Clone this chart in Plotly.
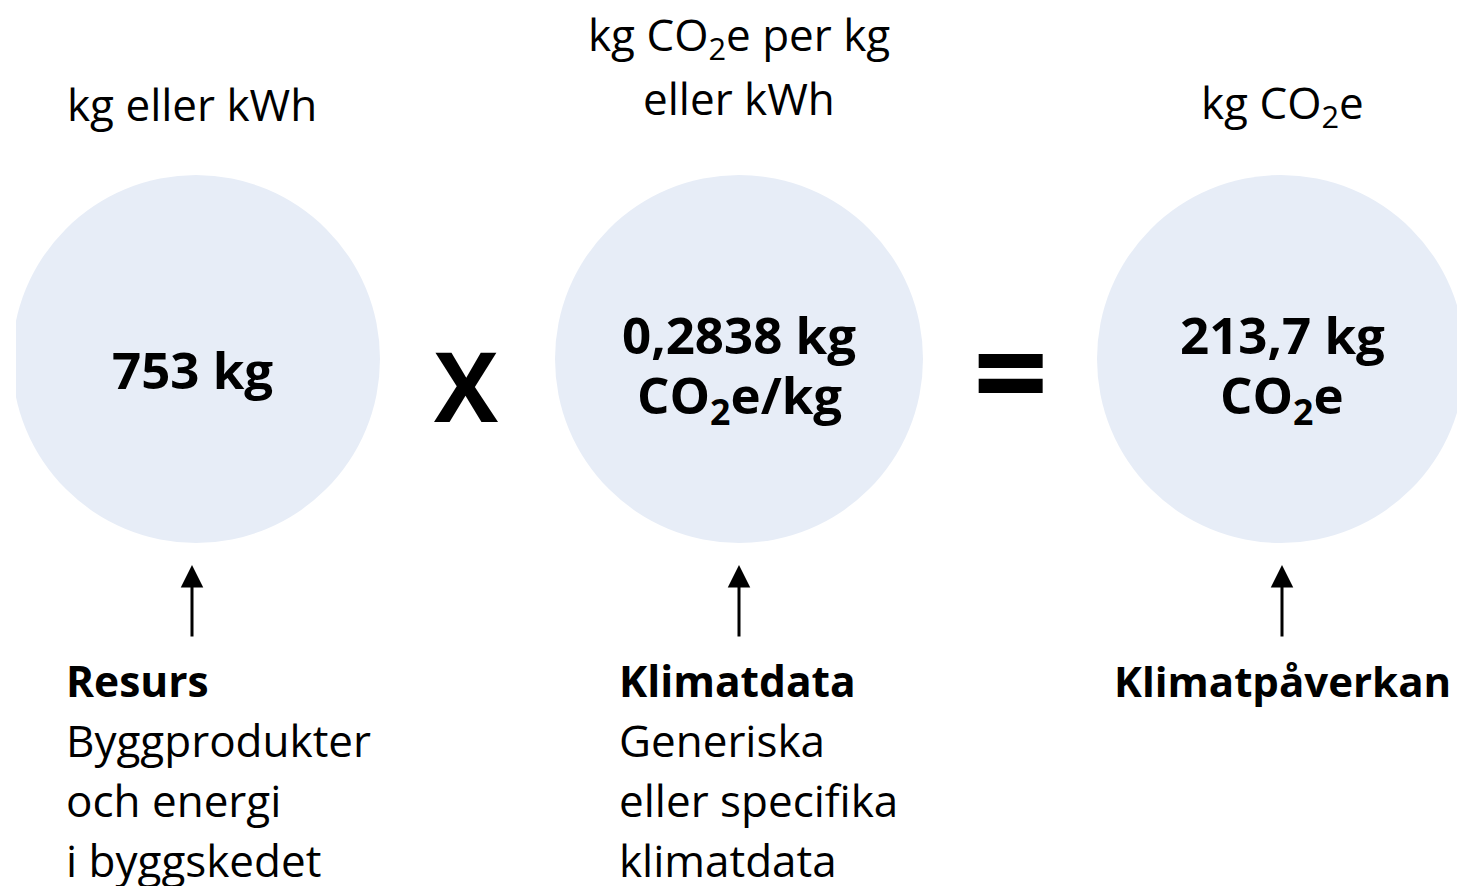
import plotly.graph_objects as go

# ---- content ----
unit_lines = [["kg eller kWh"],
              ["kg CO<sub>2</sub>e per kg", "eller kWh"],
              ["kg CO<sub>2</sub>e"]]
value_lines = [["753 kg"],
               ["0,2838 kg", "CO<sub>2</sub>e/kg"],
               ["213,7 kg", "CO<sub>2</sub>e"]]
operators = ["X", "="]
titles = ["Resurs", "Klimatdata", "Klimatpåverkan"]
desc_lines = [["Byggprodukter", "och energi", "i byggskedet"],
              ["Generiska", "eller specifika", "klimatdata"],
              []]

# ---- layout (pixel space) ----
W, H = 1457, 886
col_x = [192, 739, 1282]
circle_x = [196, 739, 1281]
circle_y, circle_r = 359, 184
op_x = [466, 1010]
op_y = [384, 369]
op_size = [96, 132]
unit_y = {1: [104], 2: [36, 98]}
value_y = {1: [369], 2: [334, 397]}
title_y = 680
desc_y0, desc_dy = 740, 60
text_left = [64, 617, None]
arrow_tip, arrow_tail = 565, 638

FONT = "Open Sans"
INK = "#000000"
FILL = "#E7EDF7"

fig = go.Figure()
fig.add_trace(go.Scatter(x=[0, W], y=[0, H], mode="markers",
                         marker=dict(opacity=0), hoverinfo="skip", showlegend=False))

shapes = []
for cx in circle_x:
    shapes.append(dict(type="circle", xref="x", yref="y",
                       x0=cx - circle_r, x1=cx + circle_r,
                       y0=circle_y - circle_r, y1=circle_y + circle_r,
                       fillcolor=FILL, line=dict(width=0), layer="below"))
shapes.append(dict(type="rect", xref="x", yref="y", x0=0, x1=16, y0=0, y1=H,
                   fillcolor="white", line=dict(width=0), layer="below"))

ann = []
for i, cx in enumerate(col_x):
    lines = unit_lines[i]
    for t, y in zip(lines, unit_y[len(lines)]):
        ann.append(dict(x=cx, y=y, text=t, showarrow=False, xanchor="center", yanchor="middle",
                        font=dict(family=FONT, size=44, color=INK)))
    lines = value_lines[i]
    for t, y in zip(lines, value_y[len(lines)]):
        ann.append(dict(x=cx, y=y, text="<b>%s</b>" % t, showarrow=False,
                        xanchor="center", yanchor="middle",
                        font=dict(family=FONT, size=51, color=INK)))
    # arrow
    ann.append(dict(x=cx, y=arrow_tip, ax=cx, ay=arrow_tail, axref="x", ayref="y",
                    text="", showarrow=True, arrowhead=2, arrowsize=1.5,
                    arrowwidth=3, arrowcolor=INK, standoff=0))
    # titles + descriptions
    if text_left[i] is None:
        ann.append(dict(x=cx, y=title_y, text="<b>%s</b>" % titles[i], showarrow=False,
                        xanchor="center", yanchor="middle",
                        font=dict(family=FONT, size=42, color=INK)))
    else:
        ann.append(dict(x=text_left[i], y=title_y, text="<b>%s</b>" % titles[i],
                        showarrow=False, xanchor="left", yanchor="middle",
                        font=dict(family=FONT, size=42.5, color=INK)))
        for k, t in enumerate(desc_lines[i]):
            ann.append(dict(x=text_left[i], y=desc_y0 + k * desc_dy, text=t,
                            showarrow=False, xanchor="left", yanchor="middle",
                            font=dict(family=FONT, size=44, color=INK)))

for t, x, y, s in zip(operators, op_x, op_y, op_size):
    ann.append(dict(x=x, y=y, text="<b>%s</b>" % t, showarrow=False,
                    xanchor="center", yanchor="middle",
                    font=dict(family=FONT, size=s, color=INK)))

fig.update_layout(
    width=W, height=H, margin=dict(l=0, r=0, t=0, b=0),
    paper_bgcolor="white", plot_bgcolor="white",
    xaxis=dict(range=[0, W], visible=False, fixedrange=True),
    yaxis=dict(range=[H, 0], visible=False, fixedrange=True),
    shapes=shapes, annotations=ann, showlegend=False,
)
fig.write_html("out.html", config={"displayModeBar": False},
               post_script="document.body.style.margin='0';document.body.style.overflow='hidden';")
